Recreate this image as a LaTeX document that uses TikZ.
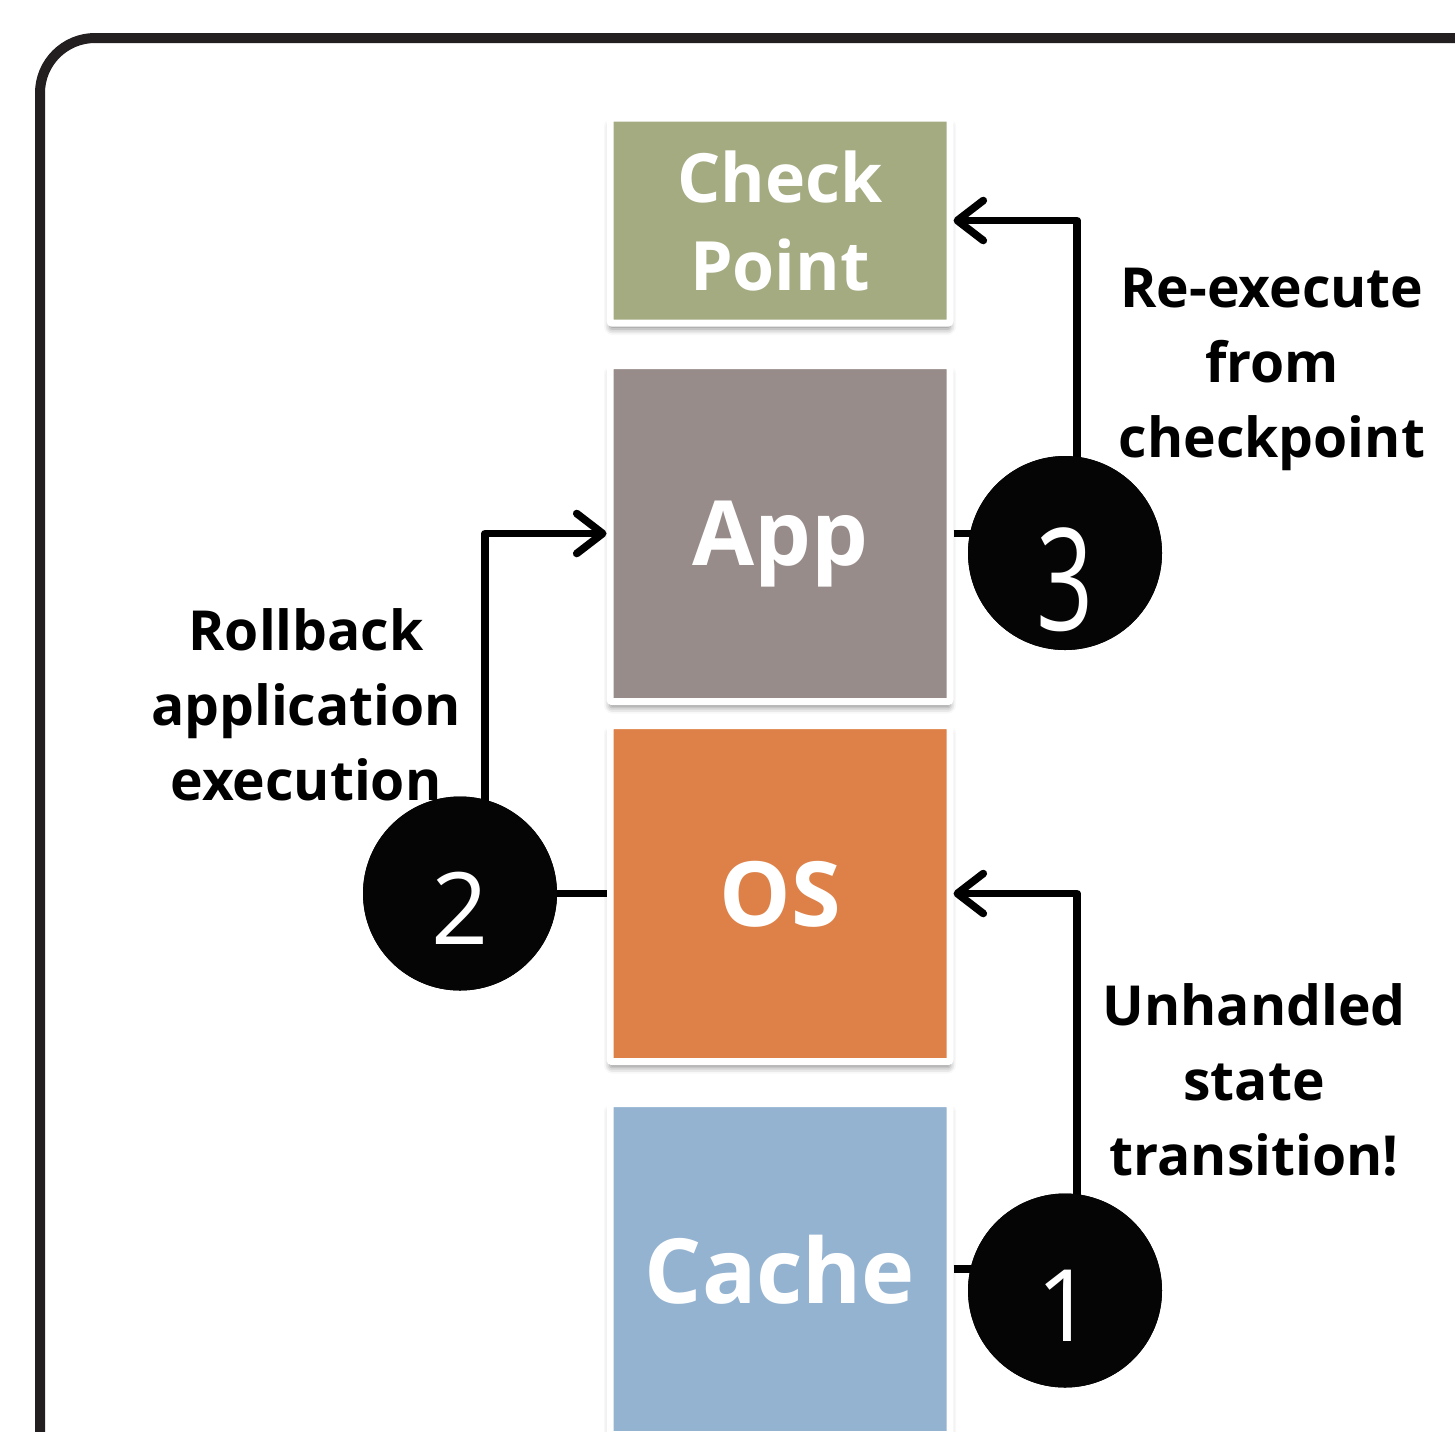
\documentclass[tikz,border=0pt]{standalone}
\usepackage{fontspec}
\setmainfont{Open Sans}
\usetikzlibrary{arrows.meta,shadows.blur}

\definecolor{framegray}{HTML}{231F20}
\definecolor{cpgreen}{HTML}{A4AB81}
\definecolor{appgray}{HTML}{978C8A}
\definecolor{osorange}{HTML}{DE8148}
\definecolor{cacheblue}{HTML}{94B3D1}
\definecolor{dotblack}{HTML}{050505}

\begin{document}
\begin{tikzpicture}[x=0.5pt,y=-0.5pt,
  layerbox/.style={rectangle, draw=white, line width=3.5pt, rounded corners=1pt,
    minimum width=170pt, text=white, align=center, inner sep=0pt,
    blur shadow={shadow xshift=0pt, shadow yshift=-3pt,
      shadow blur radius=3pt, shadow opacity=45}},
  bigword/.style={font=\fontsize{45}{45}\selectfont\bfseries, text depth=0pt},
  dot/.style={circle, fill=dotblack, minimum size=97pt, inner sep=0pt},
  digit/.style={text=white, inner sep=0pt, anchor=base,
    font=\fontsize{50}{50}\selectfont},
  note/.style={align=center, inner sep=0pt,
    font=\fontsize{27.6}{37.5}\selectfont\bfseries},
  conn/.style={line width=3.8pt, draw=black, line join=round},
  arr/.style={conn, -{Straight Barb[length=13pt, width=20pt, round]}}]

\useasboundingbox (0,0) rectangle (1455,1431);

\begin{scope}
  \clip (0,0) rectangle (1455,1431);

  % outer rounded frame, running off the right and bottom edges
  \draw[line width=5pt, draw=framegray, rounded corners=27.5pt]
    (40,1500) -- (40,38) -- (1500,38);

  % the stack of layers
  \node[layerbox, fill=cpgreen, minimum height=102.5pt,
        font=\fontsize{34}{44}\selectfont\bfseries] (cp) at (780,220.5) {Check\\Point};
  \node[layerbox, bigword, fill=appgray, minimum height=168pt] (app) at (780,533.5) {App};
  \node[layerbox, bigword, fill=osorange, minimum height=168pt] (os) at (780,893.5) {OS};
  \node[layerbox, bigword, fill=cacheblue, minimum height=165.5pt] (cache) at (780,1269) {Cache};

  % numbered markers (placed first so connectors can start at them)
  \path (1065,553) node[dot] (c3) {};
  \path (460,893.5) node[dot] (c2) {};
  \path (1065,1290.5) node[dot] (c1) {};

  % connectors
  \draw[arr] ([xshift=6pt]c3.center) |- (cp.east);
  \draw[conn] (app.east) -- (app.east -| c3.center);
  \draw[arr] ([xshift=12.5pt]c2.center) |- (app.west);
  \draw[conn] (os.west) -- (os.west -| c2.center);
  \draw[arr] ([xshift=6pt]c1.center) |- (os.east);
  \draw[conn] (cache.east) -- (cache.east -| c1.center);

  % redraw the markers on top of the connector ends
  \fill[dotblack] (c3) circle[radius=48.5pt];
  \fill[dotblack] (c2) circle[radius=48.5pt];
  \fill[dotblack] (c1) circle[radius=48.5pt];

  \node[digit] (d3) at ([yshift=-38.5pt]c3.center) {\scalebox{1}[1.42]{3}};
  \node[digit] (d2) at ([yshift=-25.5pt]c2.center) {2};
  \node[digit] (d1) at ([yshift=-25.5pt]c1.center) {1};

  % captions
  \node[note] (t3) at (1272,369) {Re-execute\\from\\checkpoint};
  \node[note] (t2) at (306,705) {Rollback\\application\\execution};
  \node[note] (t1) at (1254,1080) {Unhandled\\state\\transition!};
\end{scope}
\end{tikzpicture}
\end{document}
